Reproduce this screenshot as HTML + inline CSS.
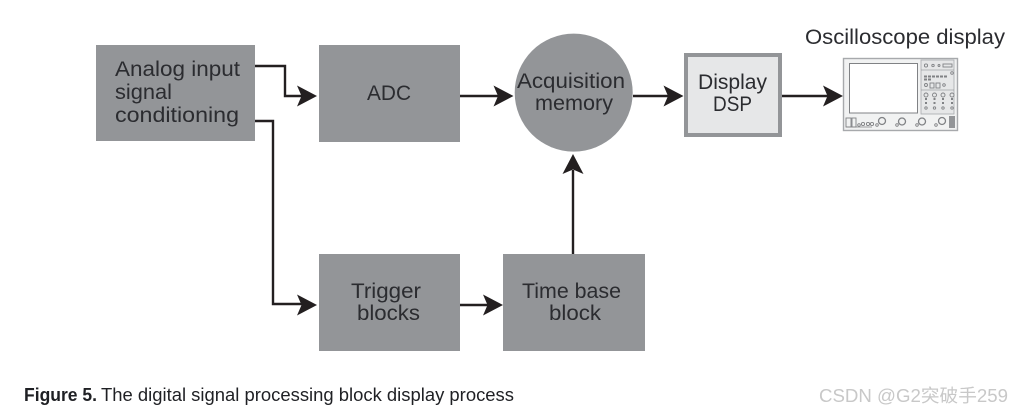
<!DOCTYPE html>
<html>
<head>
<meta charset="utf-8">
<style>
html,body{margin:0;padding:0;background:#fff}
svg{display:block}
text{font-family:"Liberation Sans","Noto Sans CJK SC",sans-serif;fill:#2b2c30}
</style>
</head>
<body>
<svg width="1014" height="414" viewBox="0 0 1014 414" xmlns="http://www.w3.org/2000/svg">
<defs>
<path id="h" d="M0 0L-20 -10.5L-15.5 0L-20 10.5Z" fill="#231f20"/>
</defs>
<!-- blocks -->
<g fill="#939598">
<rect x="96" y="45" width="159" height="96"/>
<rect x="319" y="45" width="141" height="97"/>
<circle cx="573.700" cy="92.600" r="59"/>
<rect x="319" y="254" width="141" height="97"/>
<rect x="503" y="254" width="142" height="97"/>
</g>
<rect x="686" y="55" width="94" height="80" fill="#e6e7e8" stroke="#939598" stroke-width="4"/>
<!-- connectors -->
<g fill="none" stroke="#231f20" stroke-width="2.4">
<path d="M255 66H285V96H305"/>
<path d="M255 121H273V304H305"/>
<path d="M460 96H500"/>
<path d="M633 96H672"/>
<path d="M782 96H828"/>
<path d="M460 305H490"/>
<path d="M573 254V170"/>
</g>
<use href="#h" transform="translate(317,96)"/>
<use href="#h" transform="translate(513.500,96)"/>
<use href="#h" transform="translate(683.500,96)"/>
<use href="#h" transform="translate(843,96)"/>
<use href="#h" transform="translate(317,305)"/>
<use href="#h" transform="translate(503,305)"/>
<use href="#h" transform="translate(573,154) rotate(-90)"/>
<!-- labels -->
<g font-size="21">
<text x="115" y="76" textLength="125" lengthAdjust="spacingAndGlyphs">Analog input</text>
<text x="115" y="99" textLength="57" lengthAdjust="spacingAndGlyphs">signal</text>
<text x="115" y="122" textLength="124" lengthAdjust="spacingAndGlyphs">conditioning</text>
<text x="367" y="100" textLength="44" lengthAdjust="spacingAndGlyphs">ADC</text>
<text x="517" y="88" textLength="108" lengthAdjust="spacingAndGlyphs">Acquisition</text>
<text x="535" y="110" textLength="78" lengthAdjust="spacingAndGlyphs">memory</text>
<text x="698" y="89" textLength="69" lengthAdjust="spacingAndGlyphs">Display</text>
<text x="713" y="111" textLength="39" lengthAdjust="spacingAndGlyphs">DSP</text>
<text x="351" y="298" textLength="70" lengthAdjust="spacingAndGlyphs">Trigger</text>
<text x="357" y="320" textLength="63" lengthAdjust="spacingAndGlyphs">blocks</text>
<text x="522" y="298" textLength="99" lengthAdjust="spacingAndGlyphs">Time base</text>
<text x="549" y="320" textLength="52" lengthAdjust="spacingAndGlyphs">block</text>
<text x="805" y="44" textLength="200" lengthAdjust="spacingAndGlyphs">Oscilloscope display</text>
</g>
<!-- oscilloscope -->
<rect x="843.500" y="58.500" width="114" height="72" fill="#f1f2f2" stroke="#a7a9ac" stroke-width="1.400"/>
<rect x="849.500" y="63.500" width="68" height="49.500" fill="#fff" stroke="#808285" stroke-width="1"/>
<rect x="921" y="60" width="33" height="54" fill="#e6e7e8" stroke="#a7a9ac" stroke-width=".8"/>
<g fill="none" stroke="#808285" stroke-width=".9">
<circle cx="926" cy="65.500" r="1.600"/>
<circle cx="933" cy="65.500" r="1.200"/>
<circle cx="939" cy="65.500" r="1"/>
<rect x="943" y="64" width="9" height="3"/>
<circle cx="952" cy="73" r="1.300"/>
<path d="M921 70H954M921 90H954" stroke-width=".5"/>
<path d="M924 76.500H947M924 79.500H931" stroke-width="2" stroke-dasharray="3 1"/>
<circle cx="926" cy="85" r="1.500"/><circle cx="944" cy="85" r="1.300"/>
<rect x="930" y="83" width="4" height="5"/><rect x="936" y="83" width="4" height="5"/>
<circle cx="926" cy="95" r="2"/><circle cx="934.500" cy="95" r="2"/><circle cx="943" cy="95" r="2"/><circle cx="952" cy="95" r="2"/>
<path d="M926 98V106M934.500 98V106M943 98V106M952 98V106" stroke-width="2" stroke-dasharray="2 2"/>
<circle cx="926" cy="108" r="1.200"/><circle cx="934.500" cy="108" r="1.200"/><circle cx="943" cy="108" r="1.200"/><circle cx="952" cy="108" r="1.200"/>
<rect x="846" y="118" width="5" height="9"/>
<rect x="852" y="118" width="4" height="9"/>
<path d="M846 127H872" stroke-width=".8"/>
<circle cx="859" cy="125" r="1.300"/><circle cx="863" cy="124" r="1.600"/><circle cx="868" cy="124" r="1.600"/><circle cx="872" cy="124" r="1.600"/>
<circle cx="882" cy="121" r="3.500" stroke-width="1.300"/><circle cx="902" cy="121.500" r="3.500" stroke-width="1.300"/><circle cx="922" cy="121.500" r="3.500" stroke-width="1.300"/><circle cx="942" cy="121" r="3.500" stroke-width="1.300"/>
<circle cx="877" cy="125" r="1.300"/><circle cx="897" cy="125" r="1.300"/><circle cx="917" cy="125" r="1.300"/><circle cx="936" cy="125" r="1.300"/>
</g>
<rect x="949" y="116" width="6" height="12" fill="#939598"/>
<!-- caption -->
<text x="24" y="401" font-size="18" font-weight="bold" textLength="73" lengthAdjust="spacingAndGlyphs" style="fill:#1f2024">Figure 5.</text>
<text x="101" y="401" font-size="18" textLength="413" lengthAdjust="spacingAndGlyphs" style="fill:#1f2024">The digital signal processing block display process</text>
<!-- watermark -->
<text x="819" y="402" font-size="18" textLength="189" lengthAdjust="spacingAndGlyphs" style="fill:#c8c8c8">CSDN @G2突破手259</text>
</svg>
</body>
</html>
